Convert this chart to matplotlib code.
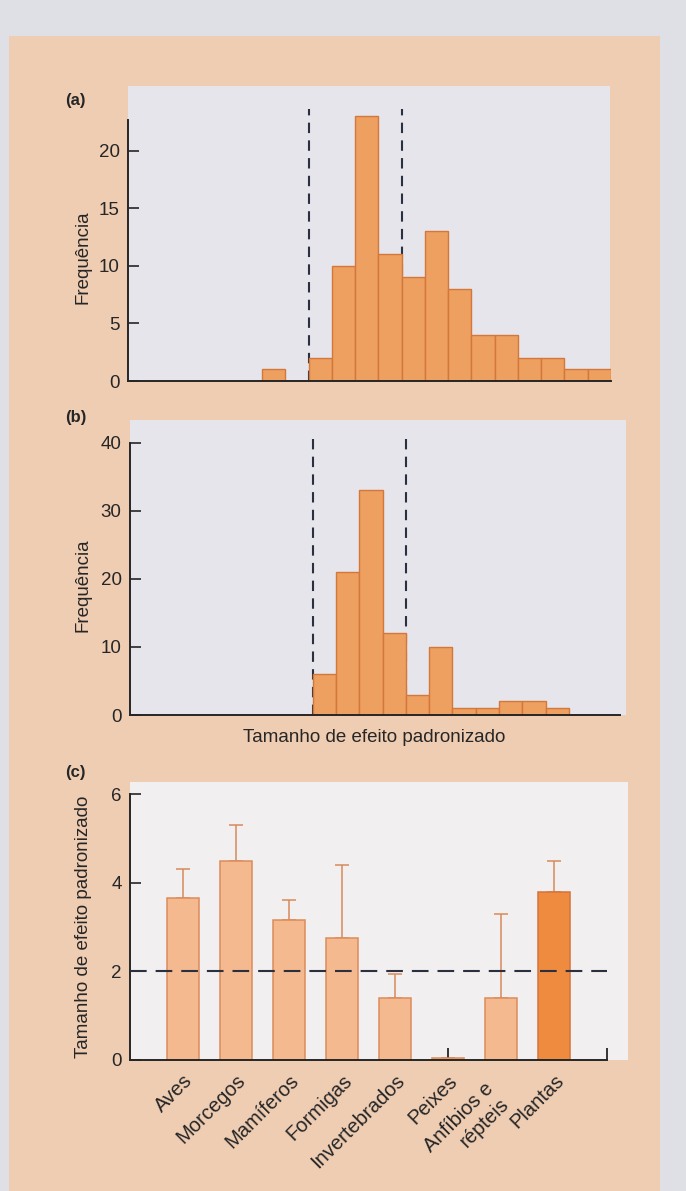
import matplotlib
matplotlib.use("Agg")
from matplotlib import pyplot as plt
import matplotlib.patches as mpatches
import numpy as np

plt.rcParams['font.family'] = ['Liberation Sans', 'DejaVu Sans']

# (a) histogram: bin left edges and counts
edges_a = [-2, -1, 0, 1, 2, 3, 4, 5, 6, 7, 8, 9, 10, 11, 12]
freq_a = [1, 0, 2, 10, 23, 11, 9, 13, 8, 4, 4, 2, 2, 1, 1]

# (b) histogram
edges_b = [0, 1, 2, 3, 4, 5, 6, 7, 8, 9, 10]
freq_b = [6, 21, 33, 12, 3, 10, 1, 1, 2, 2, 1]

# dashed reference lines (bin edges)
dash_x = [0, 4]

# (c) bars by group
grupos = ['Aves', 'Morcegos', 'Mamíferos', 'Formigas', 'Invertebrados',
          'Peixes', 'Anfíbios e\nrépteis', 'Plantas']
media_c = [3.65, 4.5, 3.15, 2.75, 1.4, 0.05, 1.4, 3.8]
topo_erro_c = [4.3, 5.3, 3.6, 4.4, 1.95, 0.05, 3.3, 4.5]

W, H = 686, 1191
page = '#dfe0e6'
peach = '#efcdb3'
light_ab = '#e5e5eb'
light_c = '#f1efef'
bar_col = '#eea060'
bar_edge = '#d4773b'
txt = '#262626'
dash_col = '#2b3040'

fig = plt.figure(figsize=(W / 100, H / 100), dpi=100, facecolor=page)


def px_axes(l, t, r, b):
    return fig.add_axes([l / W, 1 - b / H, (r - l) / W, (b - t) / H])


def px_box(l, t, r, b, col, z):
    rect = mpatches.Rectangle((l / W, 1 - b / H), (r - l) / W, (b - t) / H,
                              transform=fig.transFigure, facecolor=col,
                              edgecolor='none', zorder=z)
    fig.add_artist(rect)


px_box(9, 36, 660, 1191, peach, -6)
px_box(128, 86, 610, 381, light_ab, -5)
px_box(130, 420, 626, 715, light_ab, -5)
px_box(130, 782, 628, 1060, light_c, -5)


def style_hist(ax):
    ax.patch.set_alpha(0)
    for s in ['top', 'right']:
        ax.spines[s].set_visible(False)
    for s in ['left', 'bottom']:
        ax.spines[s].set_color(txt)
        ax.spines[s].set_linewidth(1.4)
    ax.set_xticks([])
    ax.tick_params(axis='y', direction='in', length=8, width=1.2,
                   pad=6, labelsize=13.5, colors=txt)


# ---- (a)
ax_a = px_axes(128, 99, 611, 381)
style_hist(ax_a)
ax_a.vlines(dash_x, 0, 23.6, colors=dash_col, linestyles=(0, (5, 3.5)),
            linewidth=1.5, zorder=1)
ax_a.bar(edges_a, freq_a, width=1, align='edge', color=bar_col,
         edgecolor=bar_edge, linewidth=1, zorder=2)
ax_a.set_xlim(-7.77, 13)
ax_a.set_ylim(0, 24.5)
ax_a.spines['left'].set_bounds(0, 22.7)
ax_a.set_yticks([0, 5, 10, 15, 20])

# ---- (b)
ax_b = px_axes(130, 436, 620, 715)
style_hist(ax_b)
ax_b.vlines(dash_x, 0, 40.5, colors=dash_col, linestyles=(0, (5, 3.5)),
            linewidth=1.5, zorder=1)
ax_b.bar(edges_b, freq_b, width=1, align='edge', color=bar_col,
         edgecolor=bar_edge, linewidth=1, zorder=2)
ax_b.set_xlim(-7.86, 13.2)
ax_b.set_ylim(0, 41)
ax_b.spines['left'].set_bounds(0, 40)
ax_b.set_yticks([0, 10, 20, 30, 40])

# ---- (c)
ax_c = px_axes(130, 794, 607, 1060)
ax_c.patch.set_alpha(0)
for s in ['top', 'right']:
    ax_c.spines[s].set_visible(False)
for s in ['left', 'bottom']:
    ax_c.spines[s].set_color(txt)
    ax_c.spines[s].set_linewidth(1.4)

pos = np.arange(1, len(grupos) + 1)
cores = ['#f4b98e'] * (len(grupos) - 1) + ['#ef8b3f']
bordas = ['#dc8c5c'] * (len(grupos) - 1) + ['#d4743a']
ax_c.bar(pos, media_c, width=0.62, color=cores, edgecolor=bordas,
         linewidth=1.1, zorder=2)
erro_sup = np.array(topo_erro_c) - np.array(media_c)
ax_c.errorbar(pos, media_c, yerr=[np.zeros(len(pos)), erro_sup], fmt='none',
              ecolor='#d98a5c', elinewidth=1.1, capsize=5, capthick=1.1,
              zorder=1)
ax_c.axhline(2, color=dash_col, linestyle=(0, (8, 4.3)), linewidth=1.5,
             zorder=3)
ax_c.set_xlim(0, 9)
ax_c.set_ylim(0, 6)
ax_c.set_yticks([0, 2, 4, 6])
ax_c.set_xticks(pos)
ax_c.set_xticks([9], minor=True)
ax_c.set_xticklabels([])
ax_c.tick_params(axis='x', which='both', direction='in', length=9,
                 width=1.3, colors=txt)
ax_c.tick_params(axis='y', direction='in', length=8, width=1.2, pad=6,
                 labelsize=13.5, colors=txt)

# category names, rotated 45 deg; the two-line name sits a bit lower-left
for p, nome in zip(pos, grupos):
    if '\n' in nome:
        off = (-12.2, -13.8)
    else:
        off = (0, -8)
    ax_c.annotate(nome, xy=(p, 0), xycoords=('data', 'axes fraction'),
                  xytext=off, textcoords='offset points',
                  rotation=45, rotation_mode='anchor', ha='right', va='top',
                  multialignment='right', fontsize=14.5, color=txt,
                  annotation_clip=False)

# labels
fig.text(65 / W, 1 - 100 / H, '(a)', fontsize=12, fontweight='bold',
         color=txt, ha='left', va='center')
fig.text(65 / W, 1 - 417 / H, '(b)', fontsize=12, fontweight='bold',
         color=txt, ha='left', va='center')
fig.text(65 / W, 1 - 772 / H, '(c)', fontsize=12, fontweight='bold',
         color=txt, ha='left', va='center')

fig.text(83 / W, 1 - 257 / H, 'Frequência', rotation=90, fontsize=13.5,
         color=txt, ha='center', va='center')
fig.text(83 / W, 1 - 585 / H, 'Frequência', rotation=90, fontsize=13.5,
         color=txt, ha='center', va='center')
fig.text(374 / W, 1 - 737 / H, 'Tamanho de efeito padronizado',
         fontsize=13.5, color=txt, ha='center', va='center')
fig.text(84 / W, 1 - 927 / H, 'Tamanho de efeito padronizado', rotation=90,
         fontsize=13.5, color=txt, ha='center', va='center')

fig.savefig('out.png', dpi=100, facecolor=page)
